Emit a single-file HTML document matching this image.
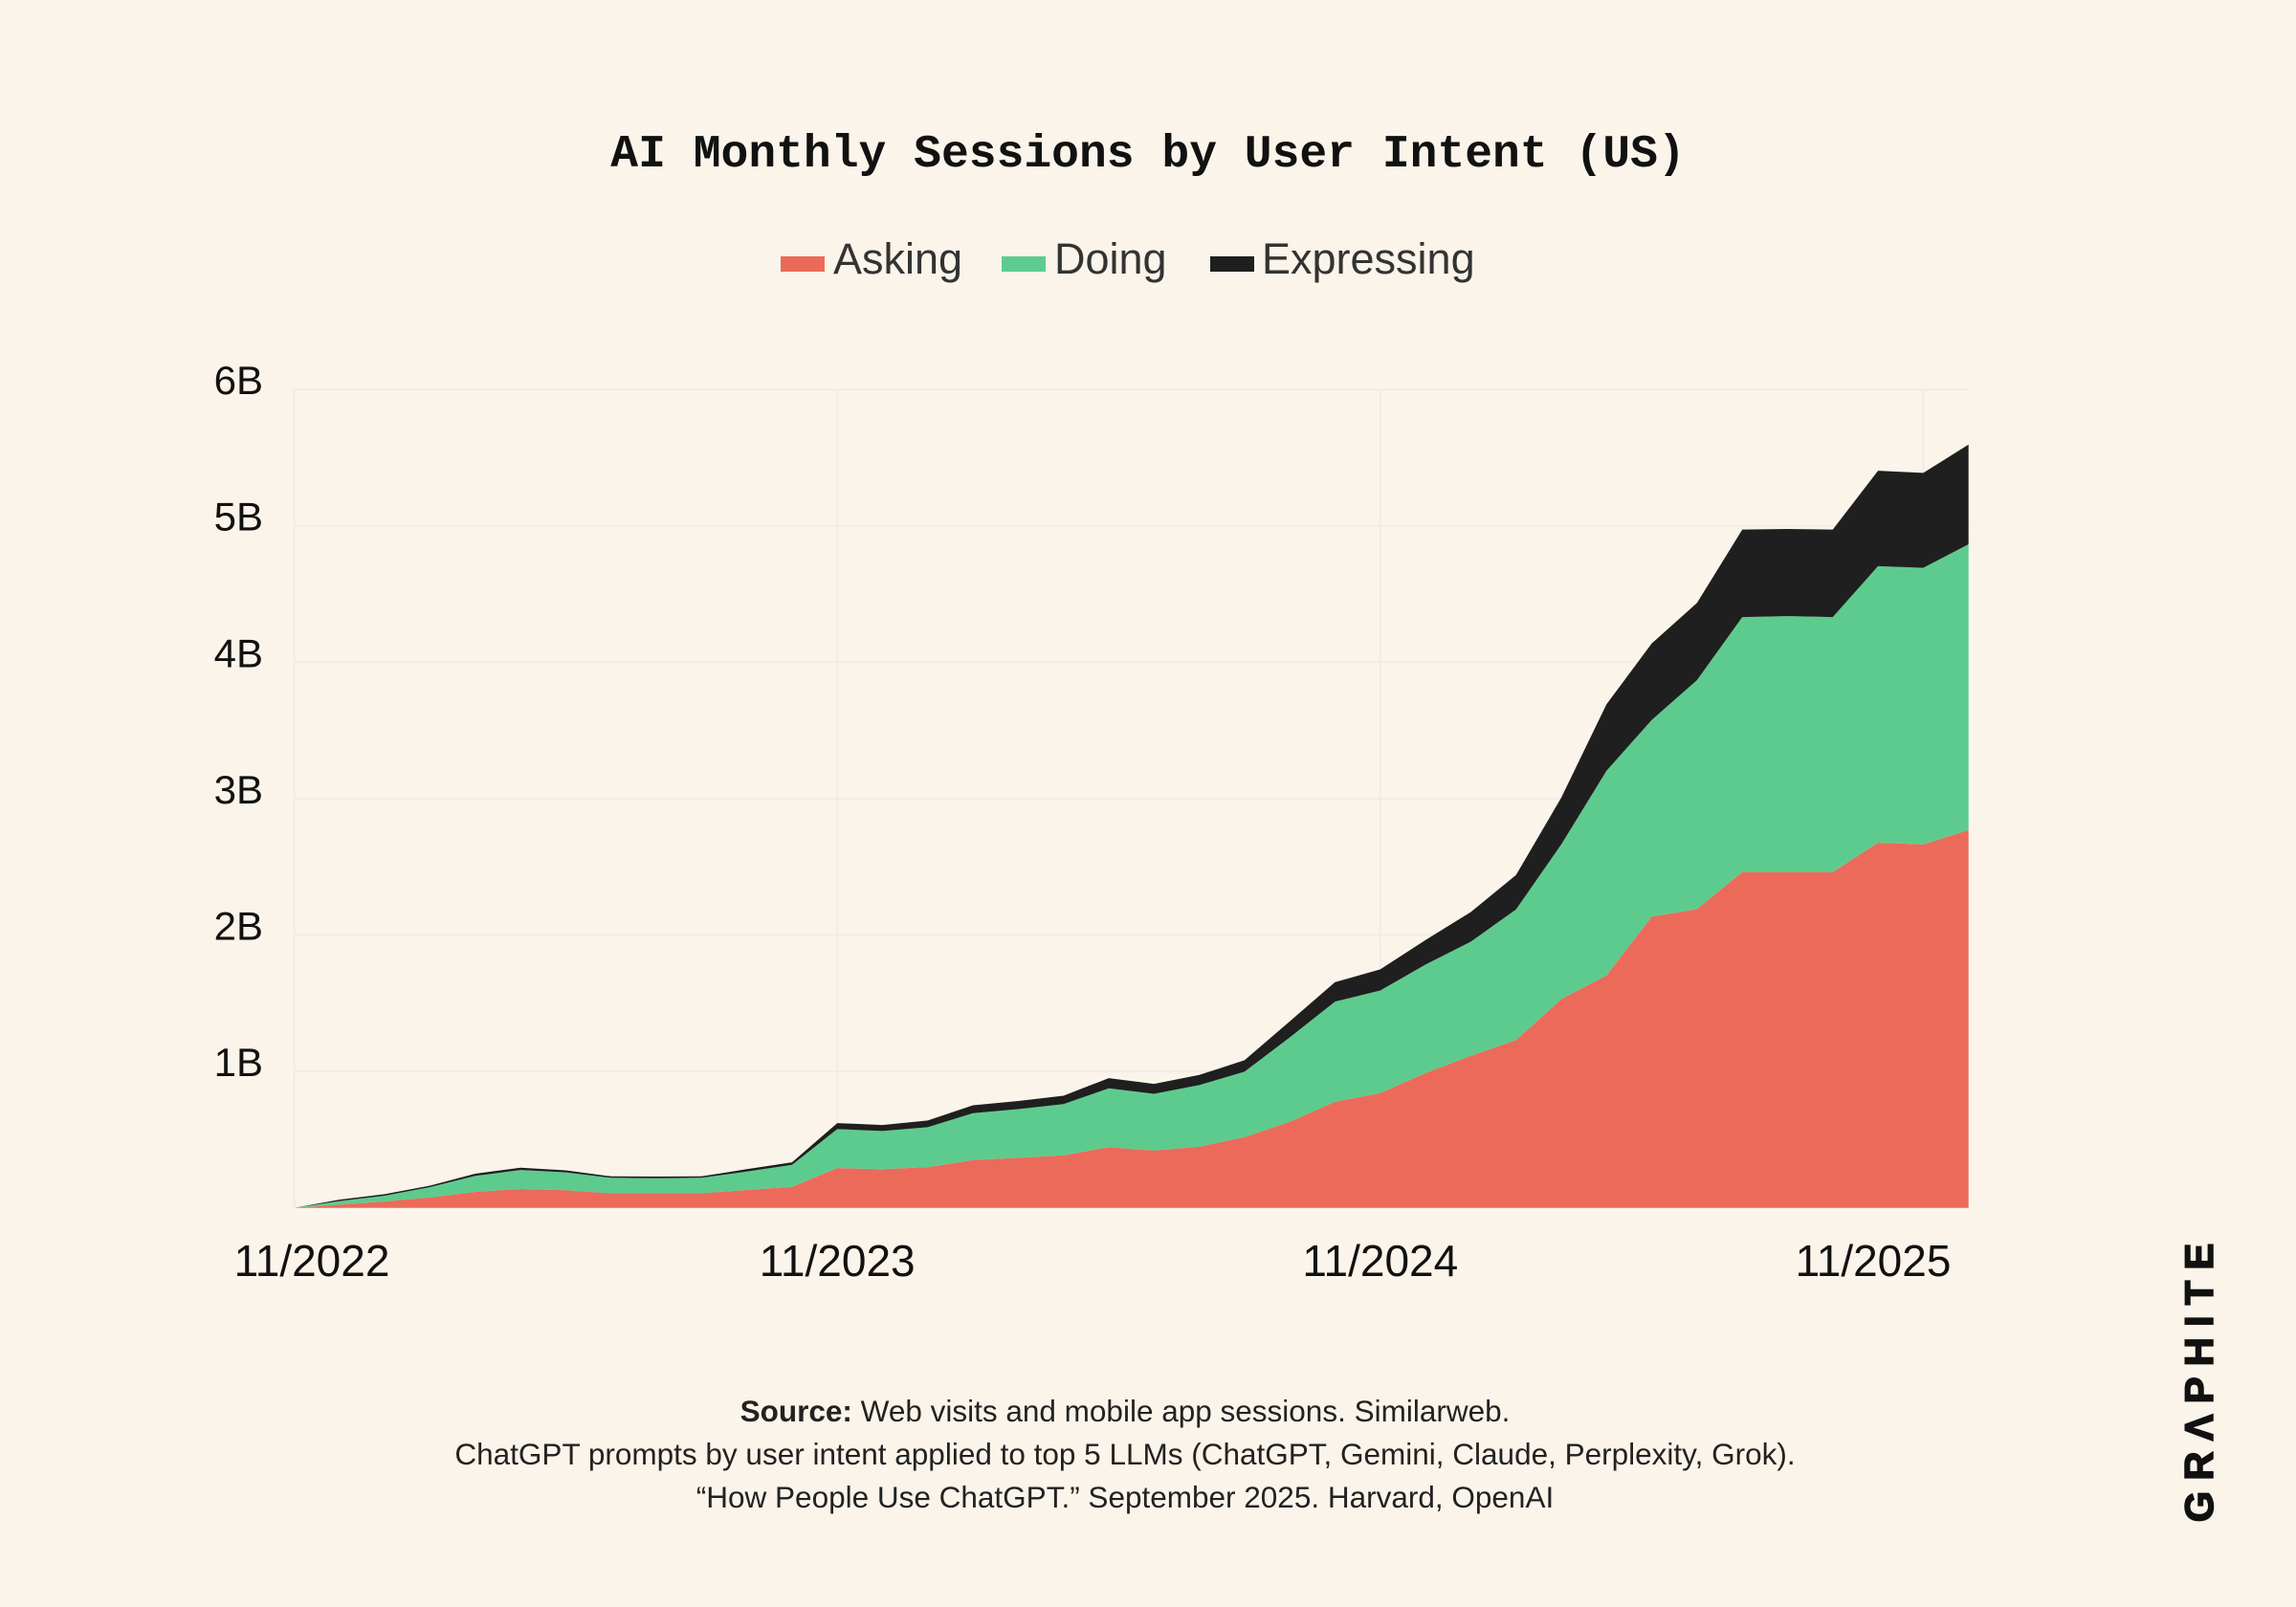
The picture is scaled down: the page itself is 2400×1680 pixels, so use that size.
<!DOCTYPE html>
<html><head><meta charset="utf-8"><style>
html,body{margin:0;padding:0;background:#fbf4ea;}
svg{display:block;}
</style></head><body>
<svg id="chart" width="2400" height="1680" viewBox="0 0 2400 1680" xmlns="http://www.w3.org/2000/svg">
<rect width="2400" height="1680" fill="#fbf4ea"/>
<text x="1200" y="174" text-anchor="middle" font-family="Liberation Mono, monospace" font-weight="bold" font-size="48" fill="#111">AI Monthly Sessions by User Intent (US)</text>
<g font-family="Liberation Sans, sans-serif" font-size="45" fill="#333">
<g><rect x="816" y="268" width="46" height="16" fill="#ec6a5a"/><text x="871" y="286">Asking</text></g>
<g><rect x="1047" y="268" width="46" height="16" fill="#5ecb8e"/><text x="1102" y="286">Doing</text></g>
<g><rect x="1265" y="268" width="46" height="16" fill="#1f1f1f"/><text x="1319" y="286">Expressing</text></g>
</g>
<g id="grid"></g>
<g id="areas"></g>
<g id="yaxis" font-family="Liberation Sans, sans-serif" font-size="42" fill="#111"></g>
<g id="xaxis" font-family="Liberation Sans, sans-serif" font-size="46" fill="#111"></g>
<g font-family="Liberation Sans, sans-serif" font-size="31.5" fill="#222" text-anchor="middle">
<text x="1176" y="1486"><tspan font-weight="bold">Source:</tspan> Web visits and mobile app sessions. Similarweb.</text>
<text x="1176" y="1531">ChatGPT prompts by user intent applied to top 5 LLMs (ChatGPT, Gemini, Claude, Perplexity, Grok).</text>
<text x="1176" y="1576">“How People Use ChatGPT.” September 2025. Harvard, OpenAI</text>
</g>
<text x="0" y="0" transform="translate(2313,1440) rotate(-90)" text-anchor="middle" font-family="Liberation Sans, sans-serif" font-weight="bold" font-size="42" letter-spacing="11" fill="#111" stroke="#111" stroke-width="1.5">GRΛPHITE</text>
</svg>
<script>
const months = 38;
const asking = [0,0.023,0.047,0.077,0.117,0.138,0.129,0.107,0.107,0.107,0.131,0.154,0.292,0.283,0.299,0.35,0.367,0.386,0.445,0.42,0.449,0.519,0.631,0.778,0.841,0.988,1.114,1.23,1.53,1.704,2.135,2.19,2.462,2.462,2.462,2.677,2.665,2.769];
const doing = [0,0.027,0.042,0.075,0.117,0.14,0.131,0.113,0.11,0.113,0.135,0.161,0.285,0.28,0.292,0.344,0.357,0.374,0.431,0.416,0.451,0.479,0.619,0.734,0.752,0.795,0.837,0.957,1.134,1.5,1.442,1.679,1.869,1.876,1.869,2.027,2.027,2.096];
const expressing = [0,0.01,0.011,0.011,0.016,0.016,0.015,0.011,0.012,0.011,0.017,0.019,0.044,0.044,0.049,0.058,0.059,0.062,0.075,0.073,0.074,0.084,0.117,0.142,0.155,0.18,0.217,0.253,0.343,0.488,0.561,0.566,0.642,0.639,0.642,0.7,0.696,0.731];
const yTicks = [1,2,3,4,5,6];
const yTickLabels = ["1B","2B","3B","4B","5B","6B"];
const xTickIdx = [0,12,24,36];
const xTickLabels = ["11/2022","11/2023","11/2024","11/2025"];

const NS = "http://www.w3.org/2000/svg";
const X0 = 307.6, XSTEP = 47.3, Y0 = 1262.7, YPER = 142.6;
function xs(i){ return X0 + XSTEP*i; }
function ys(v){ return Y0 - YPER*v; }
const XR = xs(months-1);

const grid = document.getElementById('grid');
for (let k=0;k<yTicks.length;k++){
  const l = document.createElementNS(NS,'line');
  l.setAttribute('x1',X0); l.setAttribute('x2',XR);
  l.setAttribute('y1',ys(yTicks[k])); l.setAttribute('y2',ys(yTicks[k]));
  l.setAttribute('stroke','#efece6'); l.setAttribute('stroke-width','2');
  
  
  grid.appendChild(l);
}
for (let k=0;k<xTickIdx.length;k++){
  const l = document.createElementNS(NS,'line');
  l.setAttribute('x1',xs(xTickIdx[k])); l.setAttribute('x2',xs(xTickIdx[k]));
  l.setAttribute('y1',ys(6)); l.setAttribute('y2',Y0);
  l.setAttribute('stroke','#efece6'); l.setAttribute('stroke-width','2');
  
  
  grid.appendChild(l);
}

const areas = document.getElementById('areas');
const series = [asking, doing, expressing];
const colors = ['#ec6a5a','#5ecb8e','#1f1f1f'];
const names = ['area-asking','area-doing','area-expressing'];
let base = new Array(months).fill(0);
for (let s=0;s<series.length;s++){
  const top = base.map((b,i)=>b+series[s][i]);
  let d = '';
  for (let i=0;i<months;i++) d += (i?'L':'M') + xs(i).toFixed(1) + ',' + ys(top[i]).toFixed(1);
  for (let i=months-1;i>=0;i--) d += 'L' + xs(i).toFixed(1) + ',' + ys(base[i]).toFixed(1);
  d += 'Z';
  const p = document.createElementNS(NS,'path');
  p.setAttribute('d',d); p.setAttribute('fill',colors[s]);
  
  
  areas.appendChild(p);
  base = top;
}

const yaxis = document.getElementById('yaxis');
for (let k=0;k<yTicks.length;k++){
  const t = document.createElementNS(NS,'text');
  t.setAttribute('x',275); t.setAttribute('y',ys(yTicks[k])+5);
  t.setAttribute('text-anchor','end');
  t.textContent = yTickLabels[k];
  
  
  yaxis.appendChild(t);
}
const xaxis = document.getElementById('xaxis');
for (let k=0;k<xTickIdx.length;k++){
  const t = document.createElementNS(NS,'text');
  let cx = xs(xTickIdx[k]);
  cx = Math.max(cx, 326); cx = Math.min(cx, 1958);
  t.setAttribute('x',cx); t.setAttribute('y',1334);
  t.setAttribute('text-anchor','middle');
  t.textContent = xTickLabels[k];
  
  
  xaxis.appendChild(t);
}
</script>
</body></html>
